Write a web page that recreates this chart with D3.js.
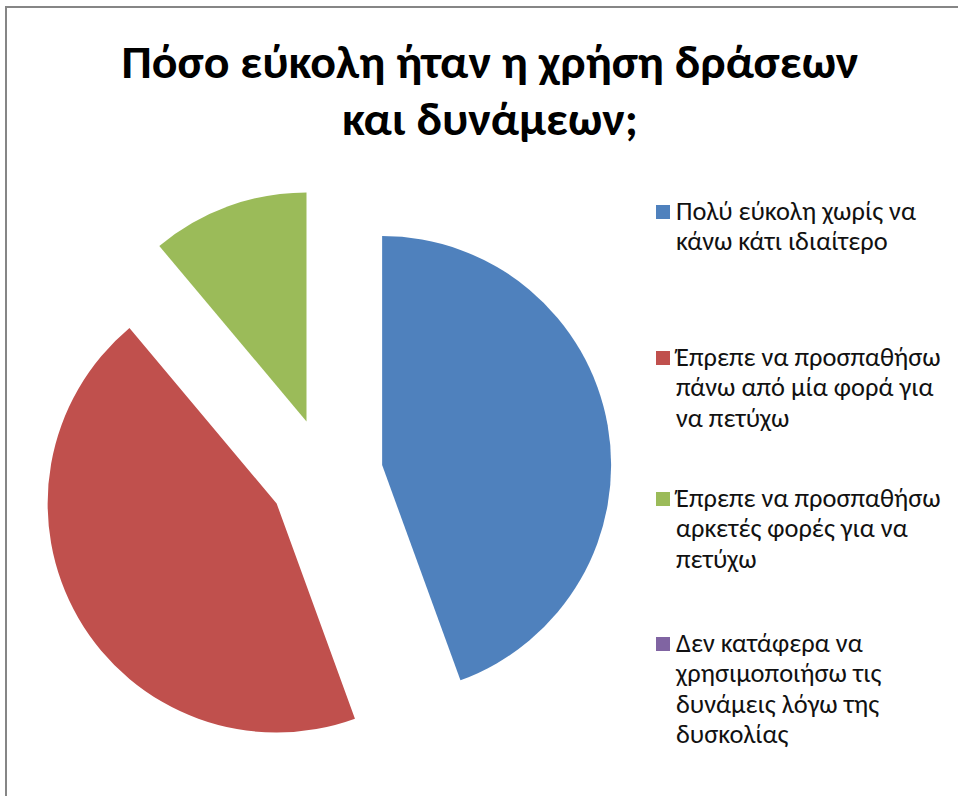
<!DOCTYPE html>
<html>
<head>
<meta charset="utf-8">
<script src="https://cdn.jsdelivr.net/npm/d3@7"></script>
<style>
  html, body { margin: 0; padding: 0; background: #fff; overflow: hidden; }
</style>
</head>
<body>
<script>
// Chart content
const titleLines = ["Πόσο εύκολη ήταν η χρήση δράσεων", "και δυνάμεων;"];
const categories = [
  ["Πολύ εύκολη χωρίς να", "κάνω κάτι ιδιαίτερο"],
  ["Έπρεπε να προσπαθήσω", "πάνω από μία φορά για", "να πετύχω"],
  ["Έπρεπε να προσπαθήσω", "αρκετές φορές για να", "πετύχω"],
  ["Δεν κατάφερα να", "χρησιμοποιήσω τις", "δυνάμεις λόγω της", "δυσκολίας"]
];
const values = [4, 4, 1, 0];
const colors = ["#4F81BD", "#C0504D", "#9BBB59", "#8064A2"];

const W = 958, H = 796;
const FONT = "Carlito, Calibri, 'Noto Sans', 'Open Sans', sans-serif";

const svg = d3.select("body").append("svg")
  .attr("width", W).attr("height", H)
  .style("display", "block");

// chart area frame (runs off the right and bottom edges)
svg.append("rect")
  .attr("x", 6).attr("y", 7)
  .attr("width", W + 20).attr("height", H + 20)
  .attr("fill", "#fff")
  .attr("stroke", "#868686")
  .attr("stroke-width", 2);

// ---- title ----
const title = svg.append("g")
  .attr("font-family", FONT)
  .attr("font-weight", "bold")
  .attr("font-size", 47)
  .attr("fill", "#000")
  .attr("text-anchor", "middle");
const titleText = title.selectAll("text").data(titleLines).join("text")
  .attr("x", 0)
  .attr("y", (d, i) => 78 + i * 57)
  .text(d => d);
const titleW = titleText.nodes()[0].getComputedTextLength();
const kTitle = 737 / titleW;
title.attr("transform", `translate(490,0) scale(${kTitle},1)`);

// ---- exploded pie ----
const cx = 326, cy = 475, R = 229, explode = 57;
const pie = d3.pie().sort(null).value(d => d).startAngle(0).endAngle(2 * Math.PI);
const arc = d3.arc().innerRadius(0).outerRadius(R);
const slices = pie(values);

svg.append("g")
  .selectAll("path")
  .data(slices.filter(d => d.value > 0))
  .join("path")
  .attr("d", arc)
  .attr("fill", d => colors[d.index])
  .attr("transform", d => {
    const mid = (d.startAngle + d.endAngle) / 2;
    return `translate(${cx + Math.sin(mid) * explode},${cy - Math.cos(mid) * explode})`;
  });

// ---- legend ----
const firstBaselines = [220, 366, 507, 652];
const lineGap = 30.3;
const legendFont = 27;

const legendMarks = svg.append("g");
legendMarks.selectAll("rect").data(categories).join("rect")
  .attr("x", 656)
  .attr("y", (d, i) => firstBaselines[i] - 15)
  .attr("width", 14).attr("height", 14)
  .attr("fill", (d, i) => colors[i]);

const legendText = svg.append("g")
  .attr("font-family", FONT)
  .attr("font-size", legendFont)
  .attr("fill", "#111");
const items = legendText.selectAll("g.item").data(categories).join("g").attr("class", "item");
items.each(function (lines, i) {
  d3.select(this).selectAll("text").data(lines).join("text")
    .attr("x", 0)
    .attr("y", (d, j) => firstBaselines[i] + j * lineGap)
    .text(d => d);
});
const refW = legendText.select("text").node().getComputedTextLength();
const kLegend = 240 / refW;
legendText.attr("transform", `translate(676,0) scale(${kLegend},1)`);
</script>
</body>
</html>
